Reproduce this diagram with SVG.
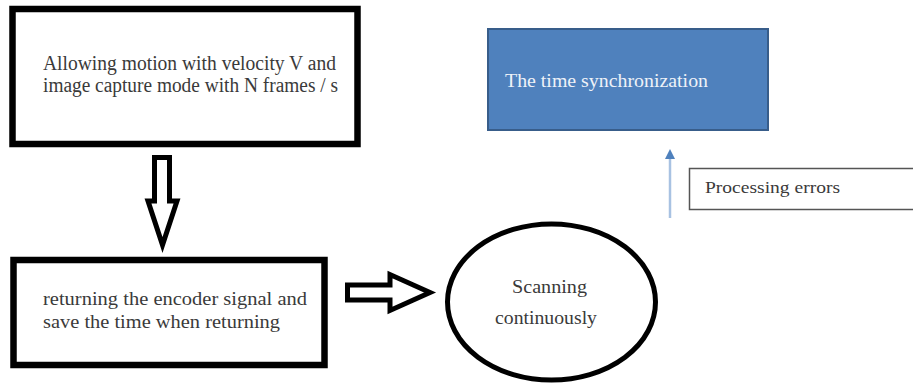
<svg xmlns="http://www.w3.org/2000/svg" width="913" height="385" viewBox="0 0 913 385">
<style>
.box{fill:#fff;stroke:#000;stroke-width:6.5}
.t{font-family:"Liberation Serif","Times New Roman",serif;fill:#3a3a3a}
.blk{fill:#fff;stroke:#000;stroke-width:5;stroke-linejoin:miter}
</style>
<rect width="913" height="385" fill="#fff"/>
<g id="node-motion">
<rect class="box" x="12.5" y="9" width="345" height="135"/>
<text class="t" font-size="20" x="43" y="70" textLength="293" lengthAdjust="spacingAndGlyphs">Allowing motion with velocity V and</text>
<text class="t" font-size="20" x="43" y="92" textLength="295" lengthAdjust="spacingAndGlyphs">image capture mode with N frames / s</text>
</g>
<g id="node-encoder">
<rect class="box" x="13.5" y="260" width="311" height="105"/>
<text class="t" font-size="19" x="43" y="305" textLength="264" lengthAdjust="spacingAndGlyphs">returning the encoder signal and</text>
<text class="t" font-size="19" x="43" y="328" textLength="237" lengthAdjust="spacingAndGlyphs">save the time when returning</text>
</g>
<g id="node-scan">
<ellipse cx="551.5" cy="302" rx="104" ry="78" fill="#fff" stroke="#000" stroke-width="5"/>
<text class="t" font-size="19" x="512" y="293" textLength="75" lengthAdjust="spacingAndGlyphs">Scanning</text>
<text class="t" font-size="19" x="495" y="324" textLength="102" lengthAdjust="spacingAndGlyphs">continuously</text>
</g>
<g id="node-sync">
<rect x="488" y="29" width="280" height="101" fill="#4f81bd" stroke="#385d8a" stroke-width="2"/>
<text font-family="Liberation Serif,'Times New Roman',serif" font-size="18" fill="#eef2f8" x="505" y="87" textLength="203" lengthAdjust="spacingAndGlyphs">The time synchronization</text>
</g>
<g id="node-errors">
<rect x="689.5" y="168.5" width="240" height="41" fill="#fff" stroke="#555" stroke-width="1.5"/>
<text class="t" font-size="17" fill="#222" x="705" y="193" textLength="135" lengthAdjust="spacingAndGlyphs">Processing errors</text>
</g>
<g id="connectors">
<path class="blk" d="M154.5 157.5 H169.5 V201 H177 L162.5 245 L148 201 H154.5 Z"/>
<path class="blk" d="M347.5 285 H390 V274.5 L430 292.5 L390 310.5 V300 H347.5 Z"/>
<line x1="670" y1="218" x2="670" y2="158" stroke="#a8c2e2" stroke-width="2.5"/>
<path d="M670 149 L665 159 H675 Z" fill="#4f81bd"/>
</g>
</svg>
